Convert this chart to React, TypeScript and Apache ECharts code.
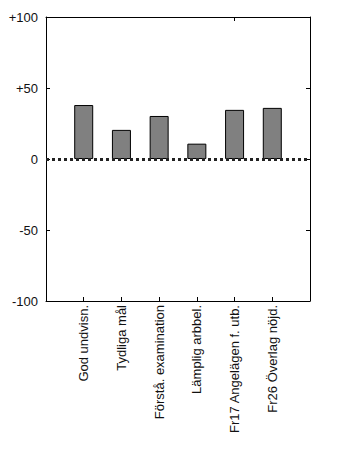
import React, { useEffect, useRef } from "react";
import * as echarts from "echarts";

const categories = [
  "God undvisn.",
  "Tydliga mål",
  "Förstå. examination",
  "Lämplig arbbel.",
  "Fr17 Angelägen f. utb.",
  "Fr26 Överlag nöjd.",
];
const values = [38, 20.5, 30.3, 10.8, 34.6, 36.0];
const yTicks = [-100, -50, 0, 50, 100];

export default function App() {
  const ref = useRef<HTMLDivElement>(null);
  useEffect(() => {
    if (!ref.current) return;
    const chart = echarts.init(ref.current, null, { renderer: "svg" });
    const axisCats = ["", ...categories, ""];
    const barData = [null, ...values, null].map((v) => (v === null ? "-" : v));
    const font = "'Liberation Sans', Arial, sans-serif";
    const baseX = {
      type: "category",
      data: axisCats,
      boundaryGap: false,
      axisLine: { show: true, onZero: false, lineStyle: { color: "#000", width: 1 } },
      axisTick: { show: true, inside: true, length: 4, lineStyle: { color: "#000" } },
      splitLine: { show: false },
    };
    const baseY = {
      type: "value",
      min: -100,
      max: 100,
      interval: 50,
      axisLine: { show: true, onZero: false, lineStyle: { color: "#000", width: 1 } },
      axisTick: { show: true, inside: true, length: 4, lineStyle: { color: "#000" } },
      splitLine: { show: false },
    };
    chart.setOption({
      animation: false,
      backgroundColor: "#fff",
      grid: { left: 46, right: 44, top: 17, bottom: 171, containLabel: false },
      xAxis: [
        {
          ...baseX,
          position: "bottom",
          axisLabel: {
            show: true,
            rotate: 90,
            interval: 0,
            margin: 4,
            color: "#111",
            fontSize: 13,
            fontFamily: font,
          },
        },
        {
          ...baseX,
          position: "top",
          axisLabel: { show: false },
        },
      ],
      yAxis: [
        {
          ...baseY,
          position: "left",
          axisLabel: {
            show: true,
            margin: 8,
            color: "#111",
            fontSize: 13,
            fontFamily: font,
            formatter: (v: number) => (v > 0 ? "+" + v : String(v)),
          },
        },
        {
          ...baseY,
          position: "right",
          axisLabel: { show: false },
        },
      ],
      series: [
        {
          type: "bar",
          xAxisIndex: 0,
          yAxisIndex: 0,
          data: barData,
          barWidth: 19,
          itemStyle: { color: "#808080", borderColor: "#000", borderWidth: 1 },
          markLine: {
            silent: true,
            symbol: "none",
            label: { show: false },
            lineStyle: { color: "#222", width: 3, type: [3, 3] },
            data: [{ yAxis: yTicks[2] }],
          },
        },
      ],
    });
    return () => chart.dispose();
  }, []);
  return <div ref={ref} style={{ width: 354, height: 472, margin: -8 }} />;
}
